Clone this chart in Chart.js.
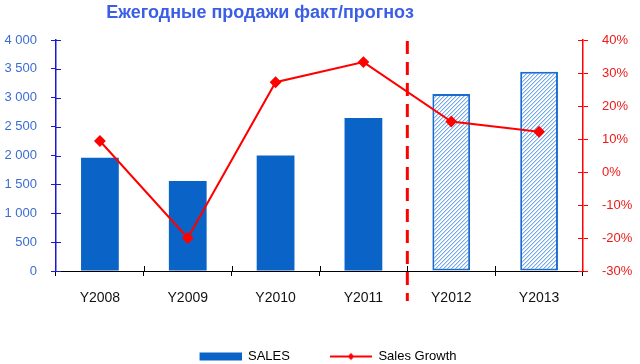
<!DOCTYPE html>
<html><head><meta charset="utf-8">
<script src="https://cdn.jsdelivr.net/npm/chart.js@4.4.0/dist/chart.umd.min.js"></script>
<style>html,body{margin:0;padding:0;background:#fff}#wrap{width:640px;height:364px;position:relative}</style>
</head><body><div id="wrap"><canvas id="c" width="640" height="364"></canvas></div>
<script>
// ---- data ----
const categories = ['Y2008', 'Y2009', 'Y2010', 'Y2011', 'Y2012', 'Y2013'];
const sales = [1960, 1560, 2000, 2650, 3065, 3450];
const growth = [9.4, -20, 27.2, 33.3, 15.3, 12.2];
const forecastFrom = 4; // first forecast category index
const titleText = 'Ежегодные продажи факт/прогноз';
const seriesNames = ['SALES', 'Sales Growth'];

// ---- styles ----
const FONT = 'Liberation Sans, Arial, sans-serif';
const BAR_BLUE = '#0a64c8';
const LEFT_AXIS = '#1a1acc';
const LEFT_LABEL = '#3b6cd4';
const RED = '#ff0000';
const RIGHT_LABEL = '#f01818';

function makeHatch() {
  const c = document.createElement('canvas');
  c.width = 4; c.height = 4;
  const g = c.getContext('2d');
  g.fillStyle = '#ffffff'; g.fillRect(0, 0, 4, 4);
  g.fillStyle = '#74aae6';
  for (let i = 0; i < 4; i++) g.fillRect(i, 3 - i, 1, 1);
  g.fillStyle = '#c4dcf5';
  for (let i = 0; i < 4; i++) g.fillRect(i, (4 - i) % 4, 1, 1);
  return g.createPattern(c, 'repeat');
}
const hatch = makeHatch();

function legendImg(kind) {
  const c = document.createElement('canvas');
  c.width = 58; c.height = 10;
  const g = c.getContext('2d');
  if (kind === 'bar') {
    g.fillStyle = BAR_BLUE; g.fillRect(16, 1, 42, 8);
  } else {
    g.strokeStyle = RED; g.lineWidth = 2;
    g.beginPath(); g.moveTo(16, 5); g.lineTo(58, 5); g.stroke();
    g.fillStyle = RED; g.beginPath();
    g.moveTo(37, 1.5); g.lineTo(40.5, 5); g.lineTo(37, 8.5); g.lineTo(33.5, 5); g.closePath(); g.fill();
  }
  return c;
}
const legendBar = legendImg('bar');
const legendLine = legendImg('line');

function fmtThousands(v) {
  return String(v).replace(/\B(?=(\d{3})+(?!\d))/g, ' ');
}

const innerTicks = {
  id: 'innerTicks',
  afterDraw(chart) {
    const ctx = chart.ctx, ca = chart.chartArea;
    const {x, y, y1} = chart.scales;
    ctx.save();
    ctx.lineWidth = 1;
    ctx.strokeStyle = LEFT_AXIS;
    ctx.beginPath();
    y.ticks.forEach((t, i) => {
      const py = Math.round(y.getPixelForTick(i)) + 0.5;
      ctx.moveTo(ca.left, py); ctx.lineTo(ca.left + 5, py);
    });
    ctx.stroke();
    ctx.strokeStyle = RED;
    ctx.beginPath();
    y1.ticks.forEach((t, i) => {
      const py = Math.round(y1.getPixelForTick(i)) + 0.5;
      ctx.moveTo(ca.right, py); ctx.lineTo(ca.right - 5, py);
    });
    ctx.stroke();
    ctx.strokeStyle = '#000';
    ctx.beginPath();
    for (let i = 1; i < categories.length; i++) {
      const px = Math.round((x.getPixelForValue(i - 1) + x.getPixelForValue(i)) / 2) + 0.5;
      ctx.moveTo(px, ca.bottom); ctx.lineTo(px, ca.bottom - 5);
    }
    ctx.stroke();
    ctx.restore();
  }
};

const forecastLine = {
  id: 'forecastLine',
  afterDatasetsDraw(chart) {
    const ctx = chart.ctx, ca = chart.chartArea, x = chart.scales.x;
    const bx = (x.getPixelForValue(forecastFrom - 1) + x.getPixelForValue(forecastFrom)) / 2;
    ctx.save();
    ctx.strokeStyle = RED; ctx.lineWidth = 3;
    ctx.setLineDash([13, 8]);
    ctx.beginPath();
    ctx.moveTo(bx, ca.top + 1); ctx.lineTo(bx, ca.bottom + 30);
    ctx.stroke();
    ctx.restore();
  }
};

const customTitle = {
  id: 'customTitle',
  afterDraw(chart) {
    const ctx = chart.ctx;
    ctx.save();
    ctx.font = 'bold 18px ' + FONT;
    ctx.fillStyle = '#3b5ee6';
    ctx.textAlign = 'center';
    ctx.textBaseline = 'middle';
    ctx.fillText(titleText, 260, 13);
    ctx.restore();
  }
};

new Chart(document.getElementById('c'), {
  data: {
    labels: categories,
    datasets: [
      {
        type: 'line',
        label: seriesNames[1],
        data: growth,
        yAxisID: 'y1',
        borderColor: RED,
        backgroundColor: RED,
        borderWidth: 2,
        pointStyle: 'rectRot',
        pointRadius: 4.5,
        pointHoverRadius: 4.5,
        tension: 0,
        order: 0
      },
      {
        type: 'bar',
        label: seriesNames[0],
        data: sales,
        yAxisID: 'y',
        backgroundColor: categories.map((_, i) => i >= forecastFrom ? hatch : BAR_BLUE),
        borderColor: categories.map((_, i) => i >= forecastFrom ? '#1a6cd0' : BAR_BLUE),
        borderWidth: categories.map((_, i) => i >= forecastFrom ? 2 : 0),
        borderSkipped: false,
        categoryPercentage: 1,
        barPercentage: 0.43,
        order: 1
      }
    ]
  },
  options: {
    responsive: false,
    devicePixelRatio: 1,
    animation: false,
    layout: { padding: { left: 0, right: 0, top: 40, bottom: -9 } },
    plugins: {
      title: { display: false },
      tooltip: { enabled: false },
      legend: {
        position: 'bottom',
        labels: {
          usePointStyle: true,
          pointStyleWidth: 58,
          boxHeight: 10,
          padding: 24,
          color: '#000',
          font: { size: 13, family: FONT },
          generateLabels() {
            return [
              { text: seriesNames[0], pointStyle: legendBar, datasetIndex: 1, fillStyle: BAR_BLUE, strokeStyle: BAR_BLUE, lineWidth: 0, hidden: false, fontColor: '#000' },
              { text: seriesNames[1], pointStyle: legendLine, datasetIndex: 0, fillStyle: RED, strokeStyle: RED, lineWidth: 0, hidden: false, fontColor: '#000' }
            ];
          }
        }
      }
    },
    scales: {
      x: {
        type: 'category',
        offset: true,
        grid: { display: true, drawOnChartArea: false, offset: true, tickLength: 5, color: '#000' },
        border: { display: true, color: '#000', width: 1 },
        ticks: { color: '#111', font: { size: 14, family: FONT }, padding: 14, maxRotation: 0 },
        afterFit(s) { s.height = 55; }
      },
      y: {
        position: 'left',
        min: 0, max: 4000,
        grid: { drawOnChartArea: false, tickLength: 5, color: LEFT_AXIS },
        border: { display: true, color: LEFT_AXIS, width: 1.5 },
        ticks: { stepSize: 500, color: LEFT_LABEL, font: { size: 13, family: FONT }, padding: 14, callback: v => fmtThousands(v) },
        afterFit(s) { s.width = 56; }
      },
      y1: {
        position: 'right',
        min: -30, max: 40,
        grid: { drawOnChartArea: false, tickLength: 5, color: RED },
        border: { display: true, color: RED, width: 1.5 },
        ticks: { stepSize: 10, color: RIGHT_LABEL, font: { size: 13, family: FONT }, padding: 14, callback: v => v + '%' },
        afterFit(s) { s.width = 57; }
      }
    }
  },
  plugins: [innerTicks, forecastLine, customTitle]
});
</script>
</body></html>
